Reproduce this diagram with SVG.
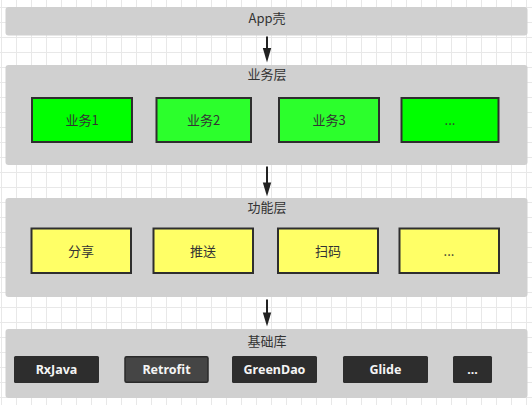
<svg xmlns="http://www.w3.org/2000/svg" width="532" height="405" viewBox="0 0 532 405">
<defs>
<pattern id="grid" patternUnits="userSpaceOnUse" x="1" y="7" width="15" height="15">
<rect x="0" y="0" width="15" height="1" fill="#e8e8e8"/>
<rect x="0" y="0" width="1" height="15" fill="#e8e8e8"/>
</pattern>
<style>
.layer{fill:#d0d0d0;}
.t{font-family:"Noto Sans CJK SC","Liberation Sans",sans-serif;font-size:13px;fill:#333;text-anchor:middle;}
.g1{fill:#00ff00;stroke:#2e2e2e;stroke-width:2;}
.g2{fill:#2cff2c;stroke:#2e2e2e;stroke-width:2;}
.y{fill:#ffff66;stroke:#2e2e2e;stroke-width:2;}
.d{fill:#2d2d2d;}
.d2{fill:#454545;stroke:#2a2a2a;stroke-width:1.5;}
.w{font-family:"Noto Sans","Liberation Sans",sans-serif;font-size:12.5px;font-weight:bold;fill:#f4f4f4;text-anchor:middle;}
.c{stroke:#222;stroke-width:2;fill:none;}
.h{fill:#222;}
</style>
</defs>
<rect width="532" height="405" fill="#ffffff"/>
<rect width="532" height="405" fill="url(#grid)"/>

<g id="connectors">
<line class="c" x1="267" y1="36.5" x2="267" y2="50"/>
<path class="h" d="M262.8 48 L271.2 48 L267 62.5 Z"/>
<line class="c" x1="267" y1="166.5" x2="267" y2="184"/>
<path class="h" d="M262.8 182.5 L271.2 182.5 L267 196.5 Z"/>
<line class="c" x1="267" y1="299.5" x2="267" y2="314"/>
<path class="h" d="M262.8 312.5 L271.2 312.5 L267 326.5 Z"/>
</g>

<g id="app">
<rect class="layer" x="5.5" y="7" width="522" height="28.5" rx="3"/>
<text class="t" x="267" y="22.5">App壳</text>
</g>

<g id="business-layer">
<rect class="layer" x="5.5" y="65" width="522" height="100" rx="3"/>
<text class="t" x="267" y="78.5">业务层</text>
</g>
<g id="biz1"><rect class="g1" x="32" y="98" width="100" height="44"/><text class="t" x="82" y="125">业务1</text></g>
<g id="biz2"><rect class="g2" x="156.5" y="98" width="94.5" height="44"/><text class="t" x="203.5" y="125">业务2</text></g>
<g id="biz3"><rect class="g2" x="279" y="98" width="100" height="44"/><text class="t" x="329" y="125">业务3</text></g>
<g id="biz4"><rect class="g1" x="401.5" y="98" width="97" height="44"/><text class="t" x="450" y="125">...</text></g>

<g id="function-layer">
<rect class="layer" x="5.5" y="198" width="522" height="99" rx="3"/>
<text class="t" x="267" y="211.5">功能层</text>
</g>
<g id="share"><rect class="y" x="31.5" y="228.5" width="99.5" height="44.5"/><text class="t" x="81" y="255.5">分享</text></g>
<g id="push"><rect class="y" x="153.5" y="228.5" width="99.5" height="44.5"/><text class="t" x="203" y="255.5">推送</text></g>
<g id="scan"><rect class="y" x="278" y="228.5" width="100" height="44.5"/><text class="t" x="328" y="255.5">扫码</text></g>
<g id="func4"><rect class="y" x="399.5" y="228.5" width="99.5" height="44.5"/><text class="t" x="449" y="255.5">...</text></g>

<g id="base-layer">
<rect class="layer" x="5.5" y="329" width="522" height="69" rx="3"/>
<text class="t" x="267" y="346">基础库</text>
</g>
<g id="rxjava"><rect class="d" x="14" y="356" width="85" height="27" rx="1.5"/><text class="w" x="56.5" y="374">RxJava</text></g>
<g id="retrofit"><rect class="d2" x="125" y="356.8" width="83" height="25.5" rx="1.5"/><text class="w" x="166.5" y="374">Retrofit</text></g>
<g id="greendao"><rect class="d" x="232" y="356" width="85" height="27" rx="1.5"/><text class="w" x="274.5" y="374">GreenDao</text></g>
<g id="glide"><rect class="d" x="343" y="356" width="85" height="27" rx="1.5"/><text class="w" x="385.5" y="374">Glide</text></g>
<g id="lib5"><rect class="d" x="453" y="356" width="39" height="27" rx="1.5"/><text class="w" x="472.5" y="374">...</text></g>
</svg>
